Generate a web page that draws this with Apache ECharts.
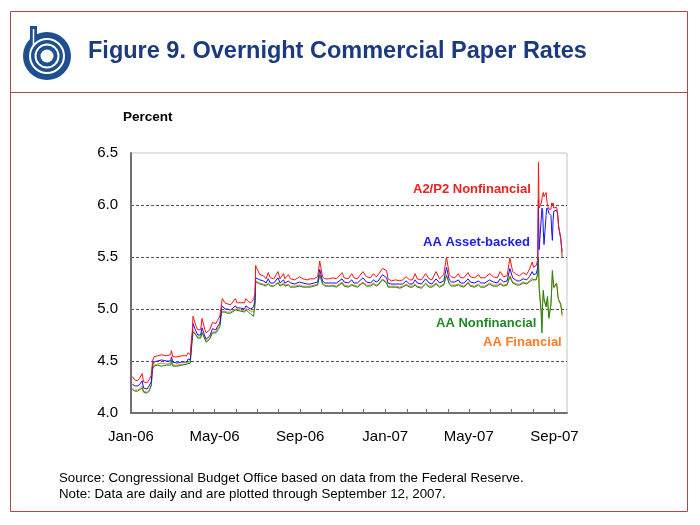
<!DOCTYPE html>
<html>
<head>
<meta charset="utf-8">
<script src="https://cdn.jsdelivr.net/npm/echarts@6/dist/echarts.min.js"></script>
<style>html,body{margin:0;padding:0;background:#fff}#c{width:700px;height:525px}</style>
</head>
<body>
<div id="c"></div>
<script>
// ---- data ----
const dates = [
'2006-01-03','2006-01-06','2006-01-10','2006-01-13','2006-01-17','2006-01-19','2006-01-24','2006-01-27','2006-01-30',
'2006-02-01','2006-02-03','2006-02-08','2006-02-14','2006-02-16','2006-02-21','2006-02-27','2006-02-28',
'2006-03-02','2006-03-08','2006-03-15','2006-03-22','2006-03-24','2006-03-27','2006-03-29','2006-03-30','2006-03-31',
'2006-04-04','2006-04-07','2006-04-11','2006-04-13','2006-04-17','2006-04-19','2006-04-24','2006-04-28',
'2006-05-03','2006-05-05','2006-05-08','2006-05-09','2006-05-11','2006-05-12','2006-05-16','2006-05-19','2006-05-24','2006-05-31',
'2006-06-02','2006-06-07','2006-06-13','2006-06-15','2006-06-19','2006-06-22','2006-06-26','2006-06-28','2006-06-29','2006-06-30',
'2006-07-05','2006-07-10','2006-07-14','2006-07-17','2006-07-20','2006-07-25','2006-07-31',
'2006-08-03','2006-08-08','2006-08-10','2006-08-15','2006-08-18','2006-08-24','2006-08-31',
'2006-09-05','2006-09-11','2006-09-15','2006-09-21','2006-09-26','2006-09-29',
'2006-10-03','2006-10-06','2006-10-12','2006-10-18','2006-10-23','2006-10-31',
'2006-11-03','2006-11-09','2006-11-14','2006-11-17','2006-11-22','2006-11-30',
'2006-12-05','2006-12-11','2006-12-15','2006-12-19','2006-12-22','2006-12-28',
'2007-01-03','2007-01-05','2007-01-10','2007-01-16','2007-01-22','2007-01-26','2007-01-31',
'2007-02-05','2007-02-09','2007-02-13','2007-02-16','2007-02-22','2007-02-28',
'2007-03-05','2007-03-09','2007-03-15','2007-03-20','2007-03-26','2007-03-30',
'2007-04-03','2007-04-06','2007-04-11','2007-04-16','2007-04-19','2007-04-24','2007-04-30',
'2007-05-03','2007-05-09','2007-05-15','2007-05-18','2007-05-24','2007-05-31',
'2007-06-05','2007-06-11','2007-06-15','2007-06-20','2007-06-25','2007-06-29',
'2007-07-03','2007-07-09','2007-07-13','2007-07-18','2007-07-23','2007-07-27','2007-07-31',
'2007-08-02','2007-08-06','2007-08-08','2007-08-09','2007-08-10','2007-08-13','2007-08-14','2007-08-15','2007-08-16','2007-08-17',
'2007-08-20','2007-08-21','2007-08-22','2007-08-23','2007-08-24','2007-08-27','2007-08-28','2007-08-29','2007-08-30','2007-08-31',
'2007-09-04','2007-09-05','2007-09-06','2007-09-07','2007-09-10','2007-09-11','2007-09-12'
];
const a2p2Nonfinancial = [
4.35,4.32,4.31,4.33,4.38,4.30,4.29,4.32,4.36,
4.50,4.54,4.55,4.56,4.55,4.55,4.56,4.60,
4.54,4.54,4.55,4.55,4.58,4.56,4.72,4.78,4.93,
4.84,4.80,4.80,4.91,4.80,4.77,4.80,4.87,
4.86,4.89,4.92,4.95,5.05,5.10,5.06,5.05,5.04,5.10,
5.06,5.06,5.06,5.10,5.07,5.06,5.09,5.15,5.42,5.40,
5.33,5.32,5.29,5.35,5.30,5.29,5.36,
5.29,5.34,5.29,5.33,5.29,5.28,5.31,
5.29,5.28,5.29,5.29,5.31,5.46,
5.31,5.29,5.29,5.30,5.29,5.35,
5.30,5.29,5.34,5.30,5.29,5.36,
5.31,5.30,5.34,5.31,5.33,5.39,
5.37,5.29,5.27,5.28,5.27,5.28,5.31,
5.28,5.28,5.34,5.29,5.28,5.34,
5.29,5.28,5.36,5.29,5.33,5.50,
5.33,5.31,5.30,5.34,5.30,5.30,5.35,
5.31,5.30,5.33,5.30,5.30,5.34,
5.31,5.30,5.36,5.31,5.32,5.49,
5.36,5.33,5.32,5.35,5.33,5.38,5.45,
5.40,5.42,5.48,6.41,5.97,6.02,6.06,6.10,6.12,6.08,
6.12,6.05,6.00,5.98,5.96,5.96,6.02,6.00,6.02,5.97,
5.98,5.95,5.88,5.79,5.68,5.62,5.50
];
const aaAssetBacked = [
4.28,4.26,4.26,4.27,4.31,4.24,4.23,4.26,4.30,
4.46,4.49,4.50,4.51,4.50,4.50,4.50,4.54,
4.49,4.48,4.49,4.49,4.52,4.51,4.68,4.74,4.86,
4.79,4.75,4.75,4.82,4.74,4.71,4.74,4.81,
4.80,4.83,4.86,4.88,5.01,5.03,5.00,5.00,4.99,5.03,
5.01,5.01,5.00,5.03,5.01,5.00,5.02,5.08,5.30,5.30,
5.28,5.27,5.25,5.29,5.25,5.25,5.30,
5.25,5.28,5.25,5.27,5.25,5.24,5.26,
5.25,5.24,5.24,5.25,5.26,5.38,
5.27,5.25,5.25,5.25,5.25,5.29,
5.26,5.25,5.28,5.25,5.25,5.30,
5.26,5.25,5.28,5.26,5.27,5.33,
5.30,5.25,5.24,5.24,5.24,5.24,5.27,
5.24,5.24,5.28,5.25,5.24,5.29,
5.25,5.24,5.29,5.25,5.27,5.40,
5.28,5.26,5.26,5.28,5.25,5.25,5.29,
5.26,5.25,5.27,5.25,5.25,5.28,
5.26,5.25,5.29,5.26,5.27,5.39,
5.30,5.27,5.27,5.29,5.28,5.31,5.36,
5.33,5.34,5.40,6.05,5.57,5.86,5.97,5.95,5.75,5.62,
5.90,5.97,5.97,5.95,5.92,5.90,5.75,5.66,5.85,5.94,
5.95,5.93,5.88,5.79,5.68,5.60,5.55
];
const aaNonfinancial = [
4.23,4.21,4.21,4.22,4.24,4.20,4.19,4.21,4.26,
4.42,4.45,4.46,4.45,4.44,4.46,4.46,4.50,
4.45,4.45,4.46,4.47,4.48,4.48,4.63,4.70,4.78,
4.75,4.72,4.72,4.77,4.71,4.68,4.71,4.77,
4.77,4.79,4.82,4.84,4.97,4.98,4.97,4.96,4.96,4.99,
4.98,4.98,4.97,4.99,4.97,4.95,4.93,5.04,5.26,5.27,
5.24,5.23,5.22,5.24,5.22,5.22,5.25,
5.22,5.24,5.22,5.23,5.21,5.21,5.22,
5.21,5.21,5.21,5.22,5.23,5.33,
5.24,5.22,5.22,5.22,5.21,5.25,
5.22,5.21,5.23,5.22,5.21,5.25,
5.22,5.22,5.24,5.22,5.23,5.28,
5.25,5.21,5.21,5.21,5.20,5.21,5.23,
5.21,5.21,5.23,5.21,5.20,5.24,
5.21,5.21,5.24,5.21,5.23,5.32,
5.24,5.22,5.22,5.23,5.22,5.21,5.25,
5.22,5.21,5.23,5.21,5.21,5.24,
5.22,5.22,5.24,5.22,5.23,5.31,
5.25,5.23,5.23,5.25,5.24,5.26,5.28,
5.27,5.28,5.34,5.49,5.20,4.95,4.77,5.05,5.18,5.10,
5.02,5.08,5.12,5.00,4.91,5.05,5.20,5.37,5.28,5.21,
5.25,5.20,5.12,5.09,5.05,5.00,4.95
];
const aaFinancial = [
4.24,4.22,4.22,4.23,4.26,4.21,4.20,4.22,4.27,
4.43,4.46,4.47,4.48,4.47,4.47,4.48,4.51,
4.46,4.46,4.47,4.47,4.49,4.49,4.65,4.71,4.80,
4.76,4.73,4.73,4.78,4.72,4.69,4.72,4.78,
4.78,4.81,4.84,4.85,4.98,4.99,4.98,4.97,4.97,5.00,
4.99,4.99,4.98,5.00,4.99,4.98,4.97,5.05,5.27,5.27,
5.25,5.24,5.23,5.25,5.23,5.22,5.26,
5.23,5.25,5.23,5.24,5.22,5.22,5.23,
5.22,5.22,5.22,5.23,5.24,5.33,
5.25,5.23,5.22,5.23,5.22,5.26,
5.23,5.22,5.24,5.23,5.22,5.26,
5.23,5.23,5.25,5.23,5.24,5.29,
5.26,5.22,5.22,5.22,5.21,5.22,5.24,
5.22,5.22,5.24,5.22,5.21,5.25,
5.22,5.22,5.25,5.22,5.24,5.33,
5.25,5.23,5.23,5.24,5.23,5.22,5.26,
5.23,5.22,5.24,5.22,5.22,5.25,
5.23,5.23,5.25,5.23,5.24,5.32,
5.26,5.24,5.24,5.26,5.25,5.27,5.30,
5.28,5.29,5.35,5.47,5.22,4.98,4.84,5.05,5.16,5.08,
5.03,5.07,5.10,5.01,4.93,5.04,5.18,5.35,5.27,5.20,
5.24,5.19,5.12,5.08,5.04,4.99,4.93
];
const tickMonths = ['2006-01-01','2006-02-01','2006-03-01','2006-04-01','2006-05-01','2006-06-01','2006-07-01','2006-08-01','2006-09-01','2006-10-01','2006-11-01','2006-12-01',
'2007-01-01','2007-02-01','2007-03-01','2007-04-01','2007-05-01','2007-06-01','2007-07-01','2007-08-01','2007-09-01'];
const labelDates = ['2006-01-01','2006-05-01','2006-09-01','2007-01-01','2007-05-01','2007-09-01'];
const labelTexts = ['Jan-06','May-06','Sep-06','Jan-07','May-07','Sep-07'];
const yTicks = [4.0, 4.5, 5.0, 5.5, 6.0, 6.5];
const axisStart = '2006-01-01', axisEnd = '2007-09-19';

// ---- build ----
function ts(s){ const p = s.split('-').map(Number); return Date.UTC(p[0], p[1]-1, p[2]); }
const labelTs = labelDates.map(ts);
function mk(arr){ return dates.map((d,i)=>[ts(d), arr[i]]); }
const FONT = 'Arial, "Liberation Sans", sans-serif';
const chart = echarts.init(document.getElementById('c'), null, {renderer:'canvas'});
const navy = '#1f4f8f';
chart.setOption({
  backgroundColor:'#ffffff',
  animation:false,
  grid:{left:131, right:133, top:153, bottom:112, show:true, borderColor:'#c4c4c4', borderWidth:1, backgroundColor:'transparent'},
  xAxis:{
    type:'value', min:ts(axisStart), max:ts(axisEnd),
    axisLine:{show:true, lineStyle:{color:'#707070', width:2}},
    axisTick:{show:true, inside:true, length:4, customValues:tickMonths.map(ts), lineStyle:{color:'#707070', width:1}},
    axisLabel:{customValues:labelTs, margin:16, fontSize:15, color:'#000', fontFamily:FONT, showMinLabel:true, showMaxLabel:true,
      formatter:function(v){ const i = labelTs.indexOf(v); return i>=0 ? labelTexts[i] : ''; }},
    splitLine:{show:false}
  },
  yAxis:{
    type:'value', min:yTicks[0], max:yTicks[yTicks.length-1], interval:0.5,
    axisLine:{show:true, lineStyle:{color:'#707070', width:2}},
    axisTick:{show:false},
    axisLabel:{margin:13, fontSize:15, color:'#000', fontFamily:FONT, formatter:v=>v.toFixed(1)},
    splitLine:{show:true, showMinLine:false, showMaxLine:false, lineStyle:{color:'#555', width:1, type:[3,2]}}
  },
  series:[
    {name:'AA Financial', type:'line', showSymbol:false, data:mk(aaFinancial), lineStyle:{width:1, color:'#ff7f2a'}, itemStyle:{color:'#ff7f2a'}},
    {name:'AA Nonfinancial', type:'line', showSymbol:false, data:mk(aaNonfinancial), lineStyle:{width:1, color:'#138a13'}, itemStyle:{color:'#138a13'}},
    {name:'AA Asset-backed', type:'line', showSymbol:false, data:mk(aaAssetBacked), lineStyle:{width:1, color:'#1010ff'}, itemStyle:{color:'#1010ff'}},
    {name:'A2/P2 Nonfinancial', type:'line', showSymbol:false, data:mk(a2p2Nonfinancial), lineStyle:{width:1, color:'#ff1010'}, itemStyle:{color:'#ff1010'}}
  ],
  graphic:[
    {type:'rect', shape:{x:10.5, y:11.5, width:677, height:500}, style:{fill:'none', stroke:'#a8494c', lineWidth:1}, silent:true},
    {type:'line', shape:{x1:10.5, y1:92.5, x2:687.5, y2:92.5}, style:{stroke:'#a8494c', lineWidth:1}, silent:true},
    // logo
    {type:'circle', shape:{cx:47, cy:56, r:24}, style:{fill:navy}},
    {type:'rect', shape:{x:30, y:26, width:7, height:22}, style:{fill:navy}},
    {type:'circle', shape:{cx:47, cy:56, r:17}, style:{fill:'none', stroke:'#fff', lineWidth:2}},
    {type:'circle', shape:{cx:47, cy:56, r:11.5}, style:{fill:'none', stroke:'#fff', lineWidth:2}},
    {type:'circle', shape:{cx:47, cy:56, r:6.5}, style:{fill:'#fff'}},
    {type:'line', shape:{x1:33.5, y1:29, x2:33.5, y2:46}, style:{stroke:'#fff', lineWidth:1.5}},
    {type:'text', left:88, top:40, style:{text:'Figure 9. Overnight Commercial Paper Rates', font:'bold 23.5px '+FONT, fill:'#1b3a80'}},
    {type:'text', left:123, top:110, style:{text:'Percent', font:'bold 13.5px '+FONT, fill:'#000'}},
    {type:'text', left:413, top:183, style:{text:'A2/P2 Nonfinancial', font:'bold 13px '+FONT, fill:'#ee2020'}},
    {type:'text', left:423, top:236, style:{text:'AA Asset-backed', font:'bold 13px '+FONT, fill:'#2020e0'}},
    {type:'text', left:436, top:317, style:{text:'AA Nonfinancial', font:'bold 13px '+FONT, fill:'#208a20'}},
    {type:'text', left:483, top:336, style:{text:'AA Financial', font:'bold 13px '+FONT, fill:'#ff7a26'}},
    {type:'text', left:59, top:472, style:{text:'Source: Congressional Budget Office based on data from the Federal Reserve.', font:'13.3px '+FONT, fill:'#000'}},
    {type:'text', left:59, top:488, style:{text:'Note: Data are daily and are plotted through September 12, 2007.', font:'13.3px '+FONT, fill:'#000'}}
  ]
});
</script>
</body>
</html>
